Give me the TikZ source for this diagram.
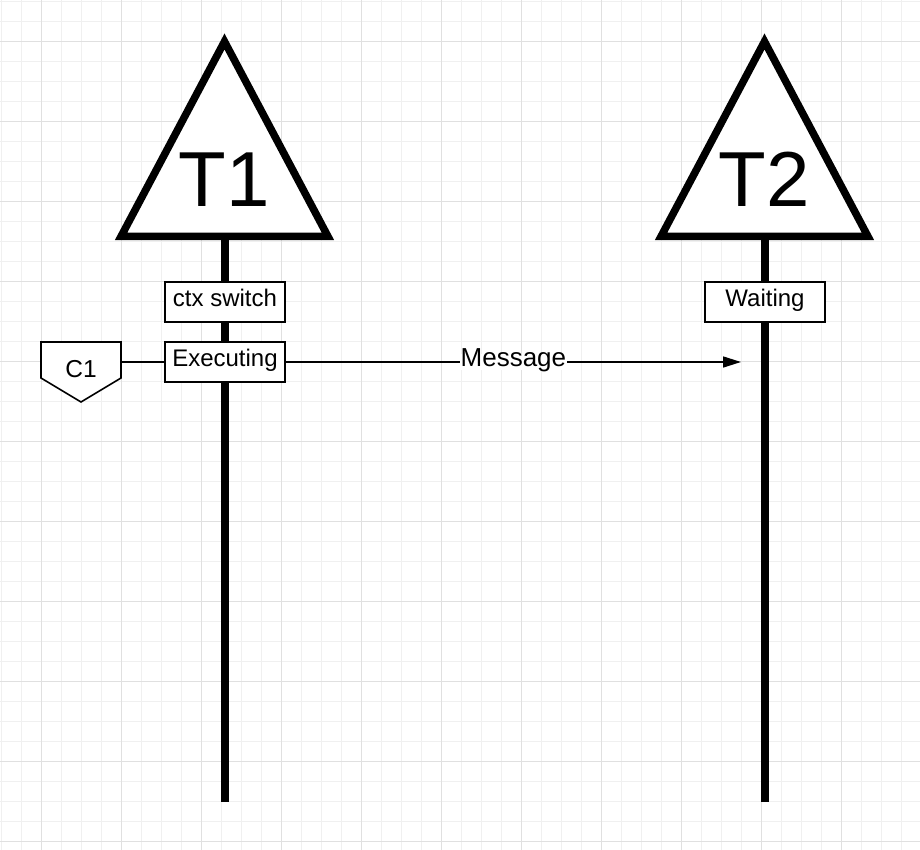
\documentclass[tikz,border=0pt]{standalone}
\usepackage{fontspec}
\setmainfont{Liberation Sans}
\usetikzlibrary{arrows.meta}
\definecolor{gridminor}{HTML}{F0F0F0}
\definecolor{gridmajor}{HTML}{E0E0E0}
\begin{document}
\begin{tikzpicture}[x=1pt,y=-1pt,
  boxstyle/.style={draw=black, line width=1.6pt, fill=white, minimum width=120pt, minimum height=40pt,
    inner sep=0pt, text height=24pt, text depth=16pt, font=\fontsize{24}{28}\selectfont},
  tristyle/.style={draw=black, line width=7.5pt, fill=white, miter limit=10},
  lifeline/.style={line width=8pt, draw=black},
  bigtext/.style={inner sep=0pt, anchor=base, font=\fontsize{78}{80}\selectfont},
  thinline/.style={line width=1.6pt, draw=black}
]
\useasboundingbox (0,0) rectangle (920,850);
\fill[white] (0,0) rectangle (920,850);
% grid
\foreach \i in {0,...,45} {
  \draw[gridminor, line width=1pt] ({1.5+20*\i},0) -- ({1.5+20*\i},850);
}
\foreach \i in {0,...,42} {
  \draw[gridminor, line width=1pt] (0,{1.5+20*\i}) -- (920,{1.5+20*\i});
}
\foreach \i in {0,...,11} {
  \draw[gridmajor, line width=1pt] ({41.5+80*\i},0) -- ({41.5+80*\i},850);
}
\foreach \i in {0,...,10} {
  \draw[gridmajor, line width=1pt] (0,{41.5+80*\i}) -- (920,{41.5+80*\i});
}
% lifeline coordinates
\coordinate (l1top) at (224.5,236.5);
\coordinate (l1bot) at (224.5,801.5);
\coordinate (l2top) at (764.5,236.5);
\coordinate (l2bot) at (764.5,801.5);
\draw[lifeline] (l1top) -- (l1bot);
\draw[lifeline] (l2top) -- (l2bot);
% triangles
\draw[tristyle] (121,236.5) -- (224.5,41.5) -- (328,236.5) -- cycle;
\draw[tristyle] (661,236.5) -- (764.5,41.5) -- (868,236.5) -- cycle;
\node[bigtext] (t1) at (224.5,207) {T1};
\node[bigtext] (t2) at (764.5,207) {T2};
% boxes
\node[boxstyle] (ctx) at (225,302) {ctx switch};
\node[boxstyle] (exec) at (225,362) {Executing};
\node[boxstyle] (wait) at (765,302) {Waiting};
% C1 pentagon
\draw[thinline, fill=white] (41,342) -- (121,342) -- (121,378) -- (81,402) -- (41,378) -- cycle;
\node[inner sep=0pt, anchor=base, font=\fontsize{24.5}{28}\selectfont] (c1) at (81,377) {C1};
\coordinate (c1r) at (121,362);
\draw[thinline] (c1r) -- (exec.west);
% message
\coordinate (msgend) at (741,362);
\draw[thinline, -{Triangle[length=18pt, width=11pt]}] (exec.east) -- node[fill=white, inner xsep=0.5pt, inner ysep=0pt,
  text height=12pt, text depth=4pt, font=\fontsize{26}{30}\selectfont] (msg) {Message} (msgend);
\end{tikzpicture}
\end{document}
